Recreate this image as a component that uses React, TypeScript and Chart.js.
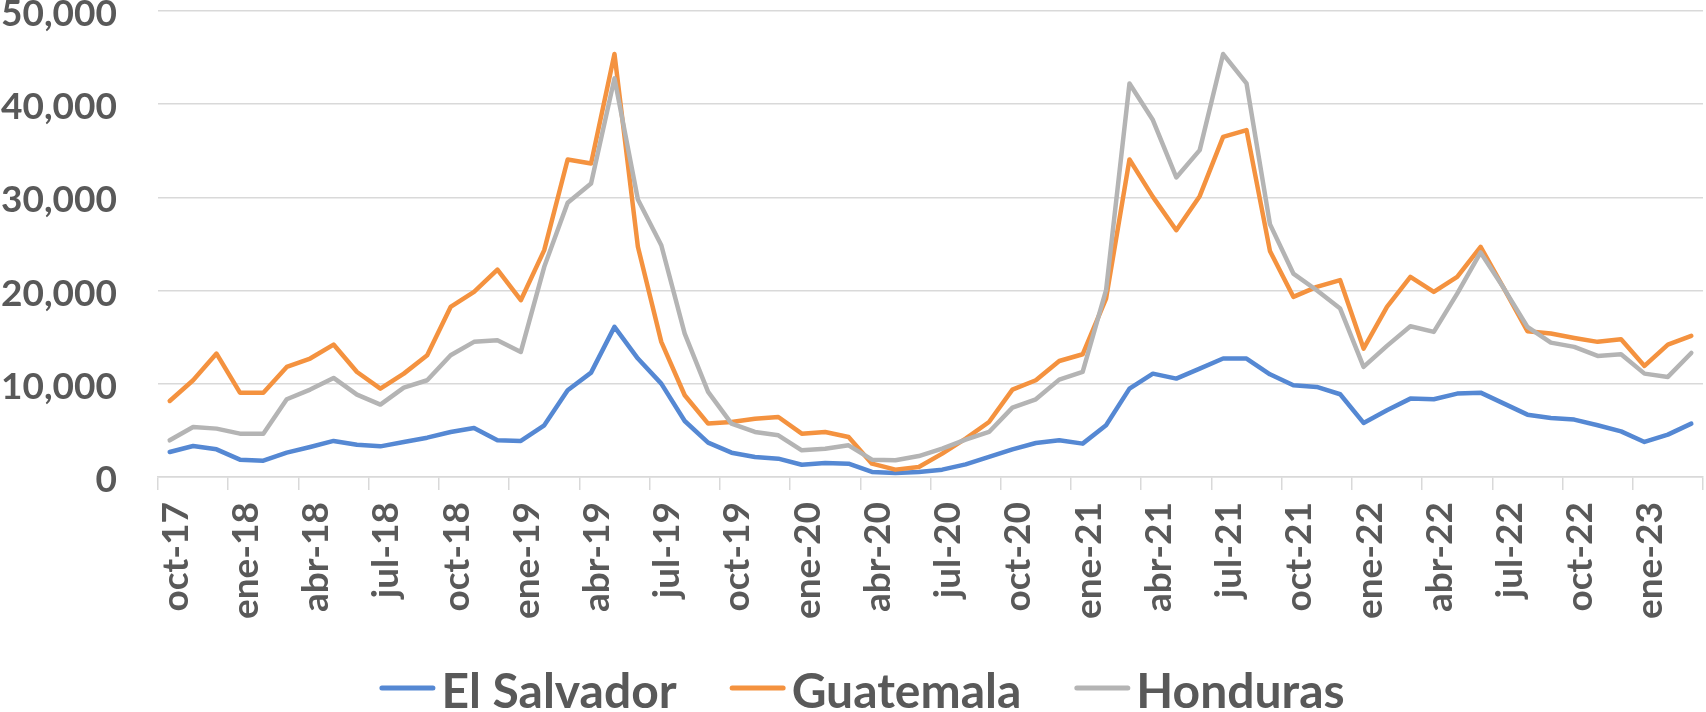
import { useEffect, useRef } from 'react';
import { Chart, registerables } from 'chart.js';

Chart.register(...registerables);

const months = [
  'oct-17', 'nov-17', 'dic-17',
  'ene-18', 'feb-18', 'mar-18', 'abr-18', 'may-18', 'jun-18', 'jul-18', 'ago-18', 'sep-18', 'oct-18', 'nov-18', 'dic-18',
  'ene-19', 'feb-19', 'mar-19', 'abr-19', 'may-19', 'jun-19', 'jul-19', 'ago-19', 'sep-19', 'oct-19', 'nov-19', 'dic-19',
  'ene-20', 'feb-20', 'mar-20', 'abr-20', 'may-20', 'jun-20', 'jul-20', 'ago-20', 'sep-20', 'oct-20', 'nov-20', 'dic-20',
  'ene-21', 'feb-21', 'mar-21', 'abr-21', 'may-21', 'jun-21', 'jul-21', 'ago-21', 'sep-21', 'oct-21', 'nov-21', 'dic-21',
  'ene-22', 'feb-22', 'mar-22', 'abr-22', 'may-22', 'jun-22', 'jul-22', 'ago-22', 'sep-22', 'oct-22', 'nov-22', 'dic-22',
  'ene-23', 'feb-23', 'mar-23',
];

const elSalvador = [
  2680, 3330, 2970, 1860, 1750, 2610, 3220, 3870, 3470, 3290, 3760, 4220, 4830, 5260, 3940, 3870, 5550, 9310, 11200, 16110, 12710, 10020,
  6010, 3690, 2610, 2150, 1970, 1320, 1500, 1430, 540, 430, 540, 790, 1360, 2150, 2970, 3650, 3940, 3580, 5550, 9480, 11090, 10560,
  11630, 12710, 12710, 11020, 9840, 9660, 8880, 5800, 7160, 8410, 8340, 8950, 9050, 7870, 6690, 6330, 6160, 5550, 4900, 3760, 4550, 5730,
];

const guatemala = [
  8160, 10380, 13240, 9050, 9050, 11810, 12710, 14210, 11270, 9480, 11090, 13060, 18250, 19860, 22260, 18970, 24340, 34070, 33640, 45380, 24700, 14500,
  8770, 5730, 5900, 6260, 6440, 4650, 4830, 4290, 1430, 790, 1070, 2510, 4120, 5900, 9380, 10380, 12450, 13170, 19150, 34070, 30060, 26480,
  30130, 36500, 37220, 24260, 19330, 20400, 21120, 13780, 18250, 21470, 19860, 21470, 24700, 20220, 15640, 15390, 14920, 14500, 14780, 11920, 14210, 15140,
];

const honduras = [
  3940, 5370, 5190, 4650, 4650, 8340, 9380, 10630, 8840, 7770, 9590, 10380, 13060, 14500, 14670, 13420, 22550, 29420, 31500, 42770, 29780, 24870,
  15390, 9130, 5730, 4830, 4470, 2860, 3040, 3400, 1860, 1790, 2250, 3040, 4010, 4830, 7440, 8340, 10450, 11270, 20040, 42230, 38300, 32140,
  35070, 45380, 42230, 27130, 21830, 20040, 18070, 11810, 14070, 16180, 15570, 19680, 24090, 20220, 16110, 14420, 13960, 12990, 13170, 11090, 10740, 13310,
];

const yMin = 0;
const yMax = 50000;
const yStep = 10000;
const labelEvery = 3;

const seriesNames = ['El Salvador', 'Guatemala', 'Honduras'];
const seriesColors = ['#5588D3', '#F4923F', '#B4B4B4'];

const FONT = 'Lato, "Open Sans", sans-serif';
const TEXT = '#595959';
const GRID = '#d9d9d9';

const legendPlugin = {
  id: 'excelLegend',
  afterDraw(chart: any) {
    const ctx = chart.ctx as CanvasRenderingContext2D;
    ctx.save();
    ctx.font = `bold 48px ${FONT}`;
    const lineLen = 56;
    const gap = 6;
    const spacing = 53;
    const items = chart.data.datasets.map((ds: any) => ({
      text: ds.label as string,
      color: ds.borderColor as string,
      w: ctx.measureText(ds.label).width,
    }));
    const total = items.reduce((s: number, it: any) => s + lineLen + gap + it.w, 0) + spacing * (items.length - 1);
    let x = 862 - total / 2;
    const lineY = 688;
    const baseY = 708;
    for (const it of items) {
      ctx.beginPath();
      ctx.strokeStyle = it.color;
      ctx.lineWidth = 5;
      ctx.lineCap = 'round';
      ctx.moveTo(x + 2.5, lineY);
      ctx.lineTo(x + lineLen - 2.5, lineY);
      ctx.stroke();
      ctx.fillStyle = TEXT;
      ctx.textAlign = 'left';
      ctx.textBaseline = 'alphabetic';
      ctx.fillText(it.text, x + lineLen + gap, baseY);
      x += lineLen + gap + it.w + spacing;
    }
    ctx.restore();
  },
};

export default function App() {
  const ref = useRef<HTMLCanvasElement | null>(null);

  useEffect(() => {
    if (!ref.current) return;
    const seriesData = [elSalvador, guatemala, honduras];
    const chart = new Chart(ref.current, {
      type: 'line',
      data: {
        labels: months,
        datasets: seriesData.map((d, i) => ({
          label: seriesNames[i],
          data: d,
          borderColor: seriesColors[i],
          backgroundColor: seriesColors[i],
          borderWidth: 4.5,
          pointRadius: 0,
          pointHoverRadius: 0,
          tension: 0,
          borderCapStyle: 'round',
          borderJoinStyle: 'round',
          fill: false,
          order: 3 - i,
        })),
      },
      options: {
        responsive: false,
        animation: false,
        devicePixelRatio: 1,
        layout: { padding: { top: 11, right: 3, left: 0, bottom: 85 } },
        plugins: {
          legend: { display: false },
          tooltip: { enabled: false },
        },
        scales: {
          x: {
            type: 'category',
            offset: true,
            grid: {
              display: true,
              offset: true,
              drawOnChartArea: false,
              drawTicks: true,
              tickLength: 13,
              lineWidth: 1.5,
              color: (c: any) => (c.index === undefined || c.index % labelEvery === 0 ? GRID : 'rgba(0,0,0,0)'),
            },
            border: { display: true, color: GRID, width: 1.5 },
            ticks: {
              autoSkip: false,
              maxRotation: 90,
              minRotation: 90,
              padding: 12,
              labelOffset: 6,
              color: TEXT,
              font: { family: FONT, size: 37, weight: 'bold' },
              callback: (_v: any, i: number) => (i % labelEvery === 0 ? months[i] : ''),
            },
            afterFit: (s: any) => {
              s.height = 150;
              s.paddingLeft = 0;
              s.paddingRight = 0;
            },
          },
          y: {
            min: yMin,
            max: yMax,
            grid: { color: GRID, lineWidth: 1.5, drawTicks: false },
            border: { display: false },
            ticks: {
              stepSize: yStep,
              padding: 41,
              labelOffset: 3,
              color: TEXT,
              font: { family: FONT, size: 37, weight: 'bold', lineHeight: 0.5 },
              callback: (v: any) => Number(v).toLocaleString('en-US'),
            },
            afterFit: (s: any) => {
              s.width = 158;
              s.paddingTop = 0;
              s.paddingBottom = 0;
            },
          },
        },
      },
      plugins: [legendPlugin],
    } as any);
    return () => chart.destroy();
  }, []);

  return (
    <div style={{ position: 'absolute', left: 0, top: 0, width: 1706, height: 712, background: '#fff' }}>
      <canvas ref={ref} width={1706} height={712} />
    </div>
  );
}
